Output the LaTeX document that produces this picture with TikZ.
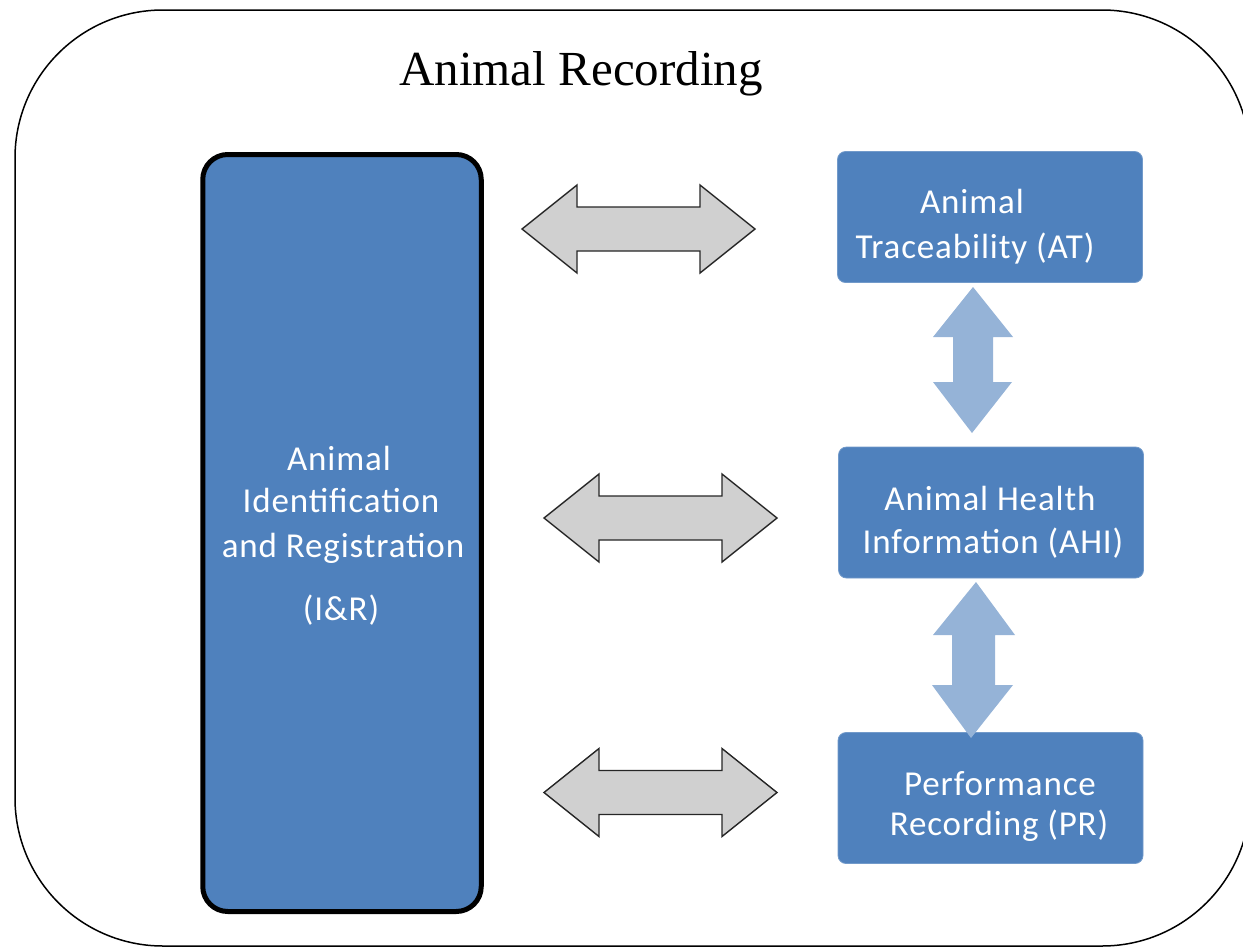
\documentclass[tikz,border=0pt]{standalone}
\usepackage{fontspec}
\setmainfont{Liberation Serif}
\newfontfamily\boxfont[LetterSpace=2.5]{Carlito}
\definecolor{boxblue}{HTML}{4F81BD}
\definecolor{lightarrow}{HTML}{95B3D7}
\definecolor{grayarrow}{HTML}{D0D0D0}
\begin{document}
\begin{tikzpicture}[x=1pt,y=-1pt,
  outerbox/.style={draw=black, line width=1.5pt, rounded corners=148pt, inner sep=0pt},
  irbox/.style={draw=black, line width=5pt, fill=boxblue, rounded corners=25pt, inner sep=0pt},
  bluebox/.style={fill=boxblue, draw=boxblue!80!white, line width=0.8pt, rounded corners=8pt, inner sep=0pt, minimum width=305pt, minimum height=131pt},
  txt/.style={font=\boxfont\fontsize{35}{44}\selectfont, text=white, anchor=base, inner sep=0pt},
  title/.style={font=\fontsize{49}{56}\selectfont, anchor=base, inner sep=0pt},
  garrow/.style={fill=grayarrow, draw=black!85, line width=1.4pt, line join=miter},
  varrow/.style={fill=lightarrow, draw=none},
  pics/harrow/.style={code={
    \draw[garrow] (-116.5,0) -- (-61.5,-44) -- (-61.5,-22) -- (61.5,-22) -- (61.5,-44)
      -- (116.5,0) -- (61.5,44) -- (61.5,22) -- (-61.5,22) -- (-61.5,44) -- cycle;}}
]
\useasboundingbox (0,0) rectangle (1243,948);
\clip (0,0) rectangle (1243,948);

% outer frame
\node[outerbox, minimum width=1235pt, minimum height=936pt] (frame) at (632.5,478) {};
\node[title] (ttl) at (581,85) {Animal Recording};

% I&R box
\node[irbox, minimum width=278.5pt, minimum height=757pt] (ir) at (342,533) {};
\node[txt] (ir1) at (339,470) {Animal};
\node[txt] (ir2) at (341,512) {Identification};
\node[txt] (ir3) at (343,557) {and Registration};
\node[txt] (ir4) at (341,620) {(I\&R)};

% right boxes
\node[bluebox] (at) at (990,217) {};
\node[txt] (at1) at (972,213) {Animal};
\node[txt] (at2) at (975,258) {Traceability (AT)};

\node[bluebox] (ahi) at (991,512.5) {};
\node[txt] (ahi1) at (990,510) {Animal Health};
\node[txt] (ahi2) at (993,553) {Information (AHI)};

\node[bluebox] (pr) at (990.5,798) {};
\node[txt] (pr1) at (1000,795) {Performance};
\node[txt] (pr2) at (999,835) {Recording (PR)};

% horizontal grey double arrows
\pic at (638.5,229) {harrow};
\pic at (660.5,518) {harrow};
\pic at (660.5,792.5) {harrow};

% vertical light-blue double arrows
\fill[varrow] (973,287) -- (1013,337) -- (993,337) -- (993,382) -- (1012,382)
  -- (972,433) -- (933,382) -- (953,382) -- (953,337) -- (933,337) -- cycle;
\fill[varrow] (976,582) -- (1015,635) -- (995,635) -- (995,685) -- (1013,685)
  -- (971,738) -- (932,685) -- (952,685) -- (952,635) -- (933,635) -- cycle;
\end{tikzpicture}
\end{document}
